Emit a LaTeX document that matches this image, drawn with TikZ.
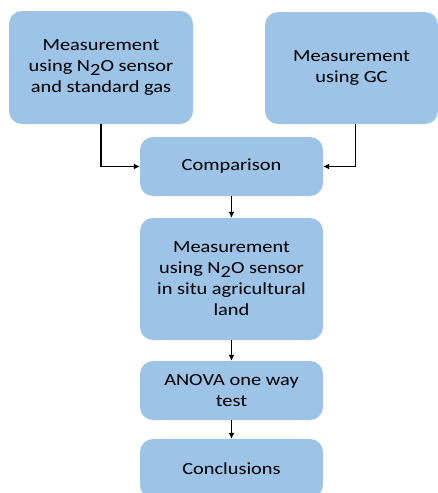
\documentclass[tikz,border=0pt]{standalone}
\usepackage{fontspec}
\setmainfont{Carlito}[FakeStretch=1.2]
\usetikzlibrary{positioning}
\usetikzlibrary{arrows.meta}

\newcommand{\ntwoo}{N\raisebox{-4pt}{2}O}

\begin{document}
\begin{tikzpicture}[
    x=1pt, y=-1pt,
    stage/.style={
        rectangle, rounded corners=13pt,
        fill={rgb,255:red,157;green,195;blue,230},
        align=center, inner sep=0pt,
        font=\fontsize{17}{21}\selectfont
    }
]
\clip (0,0) rectangle (438,493);
\fill[white] (0,0) rectangle (438,493);

\node[stage, minimum width=184pt, minimum height=113pt] (sensor) at (101,67.5)
    {Measurement\\using \ntwoo{} sensor\\and standard gas};
\node[stage, minimum width=173pt, minimum height=112pt] (gc) at (351.5,68)
    {Measurement\\using GC};
\node[stage, minimum width=183pt, minimum height=59pt] (cmp) at (231.5,166.5)
    {Comparison};
\node[stage, minimum width=183pt, minimum height=122pt] (situ) at (231.5,279)
    {Measurement\\using \ntwoo{} sensor\\in situ agricultural\\land};
\node[stage, minimum width=183pt, minimum height=59pt] (anova) at (231.5,390.5)
    {ANOVA one way\\test};
\node[stage, minimum width=183pt, minimum height=59pt] (concl) at (231.5,468.5)
    {Conclusions};

\draw[->,>={Latex[length=6pt,width=6pt]},line width=1.5pt] (sensor.south) |- (cmp.west);
\draw[->,>={Latex[length=6pt,width=6pt]},line width=1.5pt] ([xshift=4pt]gc.south) |- (cmp.east);

\draw[->,>={Latex[length=6pt,width=6pt]},line width=1.5pt] (cmp.south) -- (situ.north);
\draw[->,>={Latex[length=6pt,width=6pt]},line width=1.5pt] (situ.south) -- (anova.north);
\draw[->,>={Latex[length=6pt,width=6pt]},line width=1.5pt] (anova.south) -- (concl.north);
\end{tikzpicture}
\end{document}
